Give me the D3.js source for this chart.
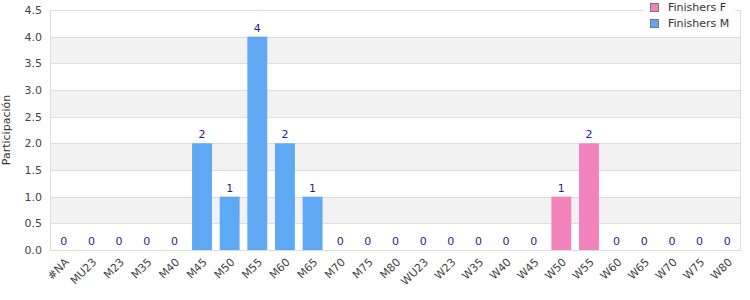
<!DOCTYPE html>
<html>
<head>
<meta charset="utf-8">
<script src="https://cdn.jsdelivr.net/npm/d3@7"></script>
<style>
  body { margin: 0; background: #fff; }
  svg { font-family: "DejaVu Sans", sans-serif; }
</style>
</head>
<body>
<svg id="chart" width="750" height="300"></svg>
<script>
var categories = ["#NA", "MU23", "M23", "M35", "M40", "M45", "M50", "M55", "M60", "M65", "M70", "M75", "M80",
  "WU23", "W23", "W35", "W40", "W45", "W50", "W55", "W60", "W65", "W70", "W75", "W80"];
var finishersM = [0, 0, 0, 0, 0, 2, 1, 4, 2, 1, 0, 0, 0, 0, 0, 0, 0, 0, 0, 0, 0, 0, 0, 0, 0];
var finishersF = [0, 0, 0, 0, 0, 0, 0, 0, 0, 0, 0, 0, 0, 0, 0, 0, 0, 0, 1, 2, 0, 0, 0, 0, 0];
var yTicks = [0, 0.5, 1, 1.5, 2, 2.5, 3, 3.5, 4, 4.5];

var colorM = "#5fa8f4";
var colorF = "#f383bc";
var gridColor = "#dddddd";

var svg = d3.select("#chart");
var margin = { top: 10, right: 9, bottom: 50, left: 50 };
var width = 750 - margin.left - margin.right;
var height = 300 - margin.top - margin.bottom;

var x = d3.scaleBand().domain(categories).range([0, width]).paddingInner(0.28).paddingOuter(0.14);
var y = d3.scaleLinear().domain([0, 4.5]).range([height, 0]);

var g = svg.append("g").attr("transform", "translate(" + margin.left + "," + margin.top + ")");

// alternating bands
for (var i = 0; i < yTicks.length - 1; i++) {
  if (i % 2 === 1) {
    g.append("rect")
      .attr("x", 0).attr("width", width)
      .attr("y", y(yTicks[i + 1])).attr("height", y(yTicks[i]) - y(yTicks[i + 1]))
      .attr("fill", "#f2f2f2");
  }
}

g.selectAll(".grid").data(yTicks).enter().append("line")
  .attr("x1", 0).attr("x2", width)
  .attr("y1", function (d) { return Math.round(y(d)) + 0.5; })
  .attr("y2", function (d) { return Math.round(y(d)) + 0.5; })
  .attr("stroke", gridColor);

// frame
g.append("line").attr("x1", 0.5).attr("x2", 0.5).attr("y1", 0).attr("y2", height).attr("stroke", gridColor);
g.append("line").attr("x1", width - 0.5).attr("x2", width - 0.5).attr("y1", 0).attr("y2", height).attr("stroke", gridColor);

// y axis labels
g.selectAll(".ytick").data(yTicks).enter().append("text")
  .attr("x", -8).attr("y", function (d) { return y(d); })
  .attr("dy", "0.35em").attr("text-anchor", "end")
  .attr("font-size", 11).attr("fill", "#444")
  .text(function (d) { return d.toFixed(1); });

svg.append("text")
  .attr("transform", "translate(10," + (margin.top + height / 2) + ") rotate(-90)")
  .attr("text-anchor", "middle").attr("font-size", 11).attr("fill", "#333")
  .text("Participación");

// x axis labels
g.selectAll(".xtick").data(categories).enter().append("text")
  .attr("transform", function (d) {
    return "translate(" + (x(d) + x.bandwidth() / 2 + 3) + "," + (height + 10) + ") rotate(-45)";
  })
  .attr("text-anchor", "end").attr("dy", "0.35em")
  .attr("font-size", 11).attr("fill", "#444")
  .text(function (d) { return d; });

// bars: each category belongs to one series
var rows = categories.map(function (c, i) {
  var isW = c.charAt(0) === "W";
  return { cat: c, value: isW ? finishersF[i] : finishersM[i], color: isW ? colorF : colorM };
});

g.selectAll(".bar").data(rows.filter(function (d) { return d.value > 0; })).enter().append("rect")
  .attr("x", function (d) { return x(d.cat); })
  .attr("width", x.bandwidth())
  .attr("y", function (d) { return y(d.value); })
  .attr("height", function (d) { return height - y(d.value); })
  .attr("fill", function (d) { return d.color; });

g.selectAll(".val").data(rows).enter().append("text")
  .attr("x", function (d) { return x(d.cat) + x.bandwidth() / 2; })
  .attr("y", function (d) { return y(d.value) - 5; })
  .attr("text-anchor", "middle").attr("font-size", 11).attr("fill", "#1f1f8f")
  .text(function (d) { return d.value; });

// legend
var legendSeries = [{ name: "Finishers F", color: colorF }, { name: "Finishers M", color: colorM }];
svg.append("rect").attr("x", 643).attr("y", 0).attr("width", 92).attr("height", 33).attr("fill", "#fff");
var lg = svg.selectAll(".legend").data(legendSeries).enter().append("g")
  .attr("transform", function (d, i) { return "translate(650," + (3 + i * 16) + ")"; });
lg.append("rect").attr("x", 0.5).attr("y", 0.5).attr("width", 8).attr("height", 8)
  .attr("fill", function (d) { return d.color; }).attr("stroke", "#777");
lg.append("text").attr("x", 18).attr("y", 4.5).attr("dy", "0.35em")
  .attr("font-size", 11).attr("fill", "#333")
  .text(function (d) { return d.name; });
</script>
</body>
</html>
